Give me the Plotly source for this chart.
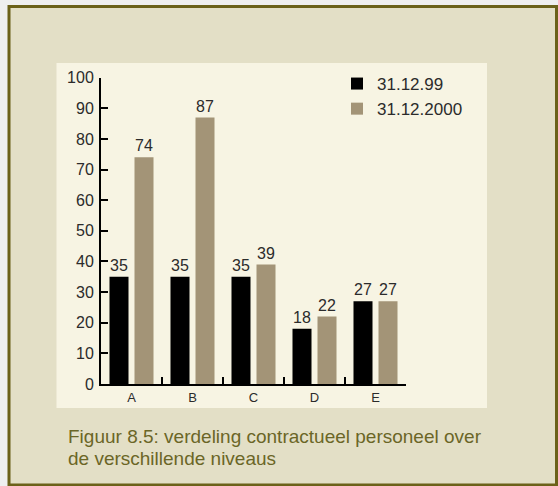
import plotly.graph_objects as go

# Contract staff per level at two reference dates
levels = ["A", "B", "C", "D", "E"]
staff_1999 = [35, 35, 35, 18, 27]
staff_2000 = [74, 87, 39, 22, 27]
series_names = ["31.12.99", "31.12.2000"]
caption_lines = [
    "Figuur 8.5: verdeling contractueel personeel over",
    "de verschillende niveaus",
]

W, H = 558, 486
FONT = "Liberation Sans, Arial, Helvetica, sans-serif"
LABEL_COLOR = "#2b2b2b"
CAPTION_COLOR = "#6b6626"


def px_x(x):
    return x / W


def px_y(y):
    return 1 - y / H


fig = go.Figure()
for name, values, color in [
    (series_names[0], staff_1999, "#000000"),
    (series_names[1], staff_2000, "#a39477"),
]:
    fig.add_trace(go.Bar(
        x=levels, y=values, name=name, legendgroup=name,
        marker=dict(color=color, line=dict(width=0)),
        text=values, textposition="outside",
        textfont=dict(size=16, color=LABEL_COLOR, family=FONT),
        cliponaxis=False,
    ))

shapes = [
    # outer framed box
    dict(type="rect", xref="paper", yref="paper",
         x0=px_x(9), x1=px_x(556.5), y0=px_y(485), y1=px_y(6.5),
         fillcolor="#e3dfc6", line=dict(color="#6b6119", width=3), layer="below"),
    # light chart panel
    dict(type="rect", xref="paper", yref="paper",
         x0=px_x(56.5), x1=px_x(487), y0=px_y(408), y1=px_y(63),
         fillcolor="#f7f4e3", line=dict(width=0), layer="below"),
]

# two caption lines placed separately for tighter line spacing
annotations = []
for i, line in enumerate(caption_lines):
    annotations.append(dict(
        xref="paper", yref="paper", x=px_x(66), y=px_y(424 + 22.3 * i),
        xanchor="left", yanchor="top", align="left", showarrow=False,
        text=line,
        font=dict(size=19, color=CAPTION_COLOR, family=FONT),
    ))

fig.update_layout(
    width=W, height=H, autosize=False,
    margin=dict(l=0, r=0, t=0, b=0, pad=0, autoexpand=False),
    paper_bgcolor="#efefef",
    plot_bgcolor="rgba(0,0,0,0)",
    font=dict(family=FONT, color=LABEL_COLOR),
    barmode="group",
    bargap=0.18,
    bargroupgap=0.24,
    shapes=shapes,
    annotations=annotations,
    showlegend=True,
    legend=dict(
        x=px_x(337), y=px_y(66), xanchor="left", yanchor="top",
        bgcolor="rgba(0,0,0,0)", font=dict(size=17, family=FONT, color=LABEL_COLOR),
        itemwidth=30, tracegroupgap=6, traceorder="normal",
    ),
    xaxis=dict(
        domain=[px_x(101), px_x(406)],
        range=[-0.5, 4.5],
        showline=True, linecolor="#000000", linewidth=2,
        ticks="inside", tickson="boundaries", ticklen=7, tickwidth=2, tickcolor="#000000",
        tickfont=dict(size=13, color=LABEL_COLOR, family=FONT),
        ticklabelstandoff=0, automargin=False,
        showgrid=False, zeroline=False, layer="below traces",
    ),
    yaxis=dict(
        domain=[px_y(384), px_y(77.7)],
        range=[0, 100],
        dtick=10, tick0=0,
        showline=True, linecolor="#000000", linewidth=2,
        ticks="inside", ticklen=7, tickwidth=2, tickcolor="#000000",
        tickfont=dict(size=16, color=LABEL_COLOR, family=FONT),
        ticklabelstandoff=2, automargin=False,
        showgrid=False, zeroline=False,
    ),
)

fig.write_html("out.html")
